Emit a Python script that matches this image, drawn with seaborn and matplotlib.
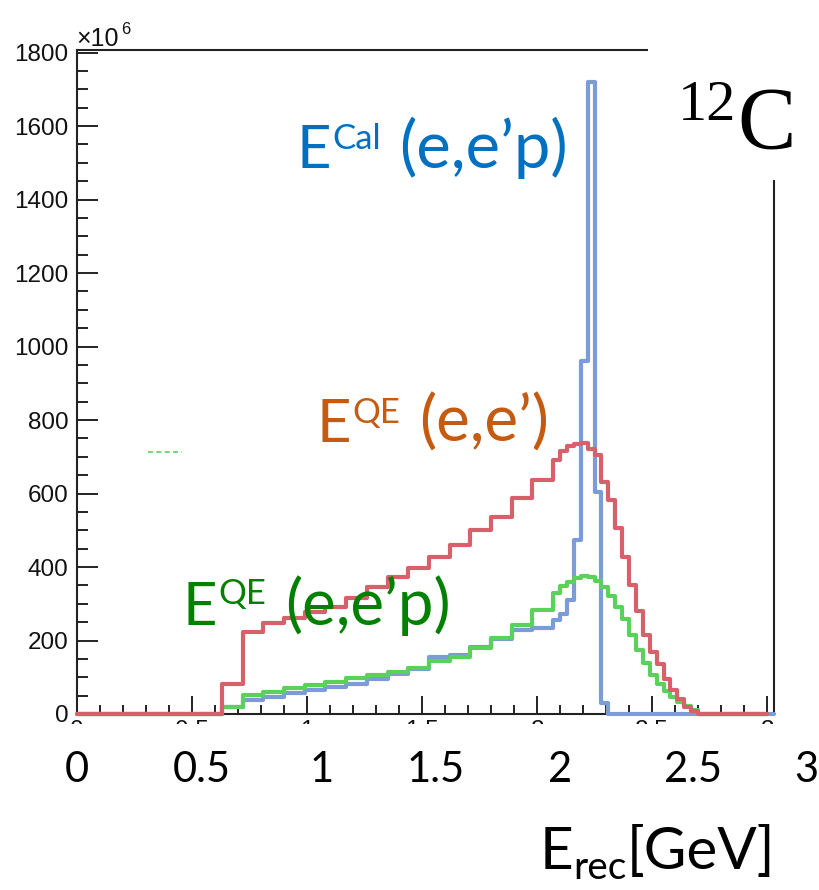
import numpy as np
import pandas as pd
import matplotlib
matplotlib.use("Agg")
import matplotlib.pyplot as plt
import seaborn as sns
from matplotlib.patches import Rectangle
from matplotlib.ticker import MultipleLocator

sns.set_style("white")
plt.rcParams["font.family"] = ["Lato", "DejaVu Sans"]

# ---------------- data (counts in units of 10^6) ----------------
bin_edges = [0.0, 0.63, 0.72, 0.81, 0.90, 0.99, 1.08, 1.17, 1.26, 1.35, 1.44,
             1.53, 1.62, 1.71, 1.80, 1.89, 1.98, 2.07, 2.10, 2.13, 2.16, 2.19,
             2.22, 2.25, 2.28, 2.31, 2.34, 2.37, 2.40, 2.43, 2.46, 2.49, 2.52,
             2.55, 2.58, 2.61, 2.64, 2.67, 2.70, 3.00, 3.03]

qe_eep_counts = [0, 20, 52, 61, 70, 79, 88, 97, 106, 115, 125, 143, 156, 179,
                 206, 242, 283, 328, 348, 360, 370, 375, 373, 362, 345, 322,
                 292, 258, 215, 175, 138, 105, 82, 62, 45, 32, 22, 10, 0]

cal_eep_counts = [0, 18, 38, 47, 56, 65, 74, 83, 95, 110, 122, 156, 160, 182,
                  205, 228, 233, 256, 273, 310, 473, 960, 1721, 605, 29, 0,
                  0, 0, 0, 0, 0, 0, 0, 0, 0, 0, 0, 0, 0, 0]

qe_ee_counts = [0, 83, 224, 247, 262, 277, 292, 315, 345, 372, 397, 428, 460,
                500, 537, 588, 637, 690, 716, 728, 735, 737, 722, 705, 632,
                582, 505, 428, 351, 280, 215, 170, 135, 95, 65, 40, 20, 8, 0]

xtick_values = [0, 0.5, 1, 1.5, 2, 2.5, 3]
xtick_labels = ["0", "0.5", "1", "1.5", "2", "2.5", "3"]
ytick_step = 200
x_max = 3.03
y_max = 1807

series_colors = {"cal": "#7c9cd7", "qe_eep": "#5ad25a", "qe_ee": "#d6616a"}

# ---------------- figure ----------------
W, H = 819, 890
fig = plt.figure(figsize=(W / 100, H / 100), dpi=100)
ax = fig.add_axes([77 / W, 1 - 714 / H, 697 / W, 664 / H])


def draw_hist(counts, color, z):
    edges = [float(e) for e in bin_edges[:len(counts) + 1]]
    centers = [0.5 * (a + b) for a, b in zip(edges[:-1], edges[1:])]
    df = pd.DataFrame({"E": centers, "w": [float(c) for c in counts]})
    sns.histplot(data=df, x="E", weights="w", bins=edges,
                 element="step", fill=False, color=color, linewidth=3.0, ax=ax)
    line = ax.lines[-1]
    line.set_zorder(z)
    line.set_clip_on(False)


draw_hist(cal_eep_counts, series_colors["cal"], 3.0)
draw_hist(qe_eep_counts, series_colors["qe_eep"], 3.1)
draw_hist(qe_ee_counts, series_colors["qe_ee"], 3.2)

ax.set_xlim(0, x_max)
ax.set_ylim(0, y_max)
ax.set_xlabel("")
ax.set_ylabel("")

for sp in ax.spines.values():
    sp.set_visible(True)
    sp.set_linewidth(1.5)
    sp.set_color("#222222")

ax.set_xticks(xtick_values)
ax.set_xticklabels(xtick_labels, fontfamily="Liberation Sans", fontsize=17.5)
ax.xaxis.set_minor_locator(MultipleLocator(0.1))
ax.yaxis.set_major_locator(MultipleLocator(ytick_step))
ax.yaxis.set_minor_locator(MultipleLocator(50))
for lab in ax.get_yticklabels():
    lab.set_fontfamily("Liberation Sans")
    lab.set_fontsize(17.5)
ax.tick_params(axis="both", which="both", direction="in", colors="#222222",
               width=1.4, bottom=True, left=True, top=False, right=False,
               labelcolor="#111111")
ax.tick_params(axis="x", which="major", length=13, pad=4.3)
ax.tick_params(axis="x", which="minor", length=6.5)
ax.tick_params(axis="y", which="major", length=15, pad=6.0)
ax.tick_params(axis="y", which="minor", length=8)

# exponent label
fig.text(76 / W, 1 - 46 / H, "×10", fontfamily="Liberation Sans", fontsize=18,
         ha="left", va="baseline", color="#111111")
fig.text(121 / W, 1 - 34 / H, "6", fontfamily="Liberation Sans", fontsize=12,
         ha="left", va="baseline", color="#111111")

# faint green legend remnant
ax.plot([0.102, 0.151], [0.3946, 0.3946], transform=ax.transAxes,
        color=series_colors["qe_eep"], lw=1.2, ls=(0, (3, 2)), zorder=3)

# white masks (cropped parts of the original figure)
fig.patches.append(Rectangle((0, 1 - 742 / H), 1, 18 / H, transform=fig.transFigure,
                             facecolor="white", edgecolor="none", zorder=5))
fig.patches.append(Rectangle((648 / W, 1 - 180 / H), 1, 1, transform=fig.transFigure,
                             facecolor="white", edgecolor="none", zorder=5))

# large tick labels
label_dx_px = [0, 10, 15, 14, 23, 41, 39]
for v, lab, dx in zip(xtick_values, xtick_labels, label_dx_px):
    ax.annotate(lab, xy=(v, 0), xycoords=("data", "axes fraction"),
                xytext=(dx * 0.72, -68 * 0.72), textcoords="offset points",
                ha="center", va="baseline", fontsize=30, color="black",
                annotation_clip=False, zorder=6)

renderer = fig.canvas.get_renderer()


def compose(x_px, base_px, parts, color):
    """Place text pieces one after another (main text, super/subscripts)."""
    x = x_px
    for txt, size, raise_px, gap in parts:
        t = fig.text(x / W, 1 - (base_px - raise_px) / H, txt, fontsize=size,
                     color=color, ha="left", va="baseline", zorder=6)
        bb = t.get_window_extent(renderer)
        x = bb.x1 + gap


# axis title
compose(540, 869, [("E", 42, 0, 0), ("rec", 28, -10, 0), ("[GeV]", 42, 0, 0)],
        "black")

# annotations
compose(296, 168, [("E", 43, 0, 2), ("Cal", 25, 19, 18), ("(e,e’p)", 47, 0, 0)],
        "#0070C0")
compose(316, 442, [("E", 43, 0, 2), ("QE", 25, 19, 19), ("(e,e’)", 46, 0, 0)],
        "#C55A11")
compose(182, 625, [("E", 43, 0, 2), ("QE", 25, 21, 19), ("(e,e’p)", 46, 0, 0)],
        "#008000")

# nucleus label
fig.text(736 / W, 1 - 120 / H, "12", fontfamily="Liberation Serif", fontsize=42,
         ha="right", va="baseline", color="black", zorder=6)
fig.text(737 / W, 1 - 148 / H, "C", fontfamily="Liberation Serif", fontsize=63,
         ha="left", va="baseline", color="black", zorder=6)

fig.savefig("out.png", dpi=100, facecolor="white")
